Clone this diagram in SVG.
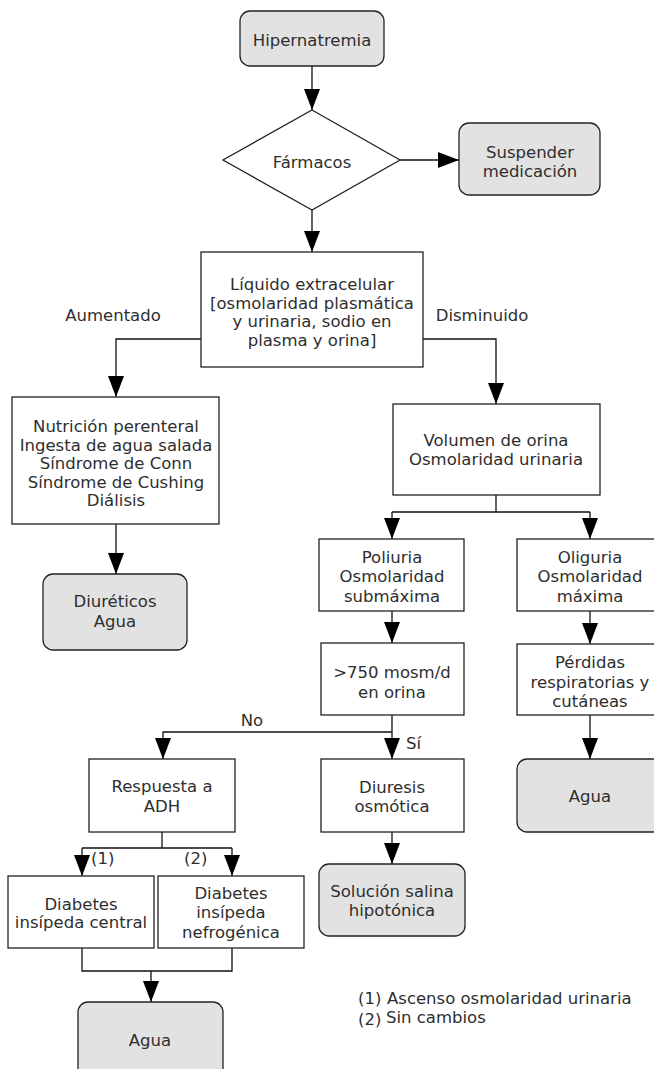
<svg xmlns="http://www.w3.org/2000/svg" width="654" height="1069" viewBox="0 0 654 1069">
  <style>
    text { font-family: "DejaVu Sans", Verdana, sans-serif; font-size: 16.5px; fill: #2e2e2e; text-anchor: middle; }
    .lbl { text-anchor: start; }
    .box { fill: #ffffff; stroke: #222; stroke-width: 1.3; }
    .term { fill: #e2e2e2; stroke: #222; stroke-width: 1.3; }
    .wire { fill: none; stroke: #111; stroke-width: 1.3; }
  </style>
  <defs>
    <marker id="arrow" viewBox="0 0 21 16" refX="21" refY="8" markerWidth="21" markerHeight="16" markerUnits="userSpaceOnUse" orient="auto">
      <path d="M0,0 L21,8 L0,16 z" fill="#000"/>
    </marker>
  </defs>
  <rect width="654" height="1069" fill="#ffffff"/>

  <!-- connectors -->
  <g id="connectors">
    <path class="wire" d="M312,66 V110" marker-end="url(#arrow)"/>
    <path class="wire" d="M400,160 H459" marker-end="url(#arrow)"/>
    <path class="wire" d="M312,210 V252" marker-end="url(#arrow)"/>
    <path class="wire" d="M201,339 H116 V397" marker-end="url(#arrow)"/>
    <path class="wire" d="M423,339 H496 V404" marker-end="url(#arrow)"/>
    <path class="wire" d="M116,524 V574" marker-end="url(#arrow)"/>
    <path class="wire" d="M496,495 V512"/>
    <path class="wire" d="M392,512 H590"/>
    <path class="wire" d="M392,512 V539" marker-end="url(#arrow)"/>
    <path class="wire" d="M590,512 V539" marker-end="url(#arrow)"/>
    <path class="wire" d="M392,611 V643" marker-end="url(#arrow)"/>
    <path class="wire" d="M590,611 V644" marker-end="url(#arrow)"/>
    <path class="wire" d="M392,715 V759" marker-end="url(#arrow)"/>
    <path class="wire" d="M392,732 H163 V759" marker-end="url(#arrow)"/>
    <path class="wire" d="M590,715 V759" marker-end="url(#arrow)"/>
    <path class="wire" d="M392,832 V864" marker-end="url(#arrow)"/>
    <path class="wire" d="M162,832 V848"/>
    <path class="wire" d="M82,848 H232"/>
    <path class="wire" d="M82,848 V876" marker-end="url(#arrow)"/>
    <path class="wire" d="M232,848 V876" marker-end="url(#arrow)"/>
    <path class="wire" d="M82,948 V971 H232 V948"/>
    <path class="wire" d="M151,971 V1002" marker-end="url(#arrow)"/>
    <!-- branch labels -->
    <text x="113" y="321">Aumentado</text>
    <text x="482" y="321">Disminuido</text>
    <text x="252" y="726">No</text>
    <text class="lbl" x="406" y="749">Sí</text>
    <text class="lbl" x="91" y="864">(1)</text>
    <text class="lbl" x="184" y="864">(2)</text>
  </g>

  <g id="hipernatremia">
    <rect class="term" x="240" y="11" width="144" height="55" rx="10"/>
    <text x="312" y="46">Hipernatremia</text>
  </g>

  <g id="farmacos">
    <polygon class="box" points="312,110 400,160 312,210 223,160"/>
    <text x="312" y="168">Fármacos</text>
  </g>

  <g id="suspender">
    <rect class="term" x="459" y="123" width="141" height="72" rx="10"/>
    <text x="530" y="158">Suspender</text>
    <text x="530" y="177">medicación</text>
  </g>

  <g id="liquido">
    <rect class="box" x="201" y="252" width="222" height="115"/>
    <text x="312" y="290">Líquido extracelular</text>
    <text x="312" y="309">[osmolaridad plasmática</text>
    <text x="312" y="327">y urinaria, sodio en</text>
    <text x="312" y="346">plasma y orina]</text>
  </g>

  <g id="causas-aumentado">
    <rect class="box" x="12" y="397" width="207" height="127"/>
    <text x="116" y="432">Nutrición perenteral</text>
    <text x="116" y="451">Ingesta de agua salada</text>
    <text x="116" y="469">Síndrome de Conn</text>
    <text x="116" y="488">Síndrome de Cushing</text>
    <text x="116" y="506">Diálisis</text>
  </g>

  <g id="diureticos">
    <rect class="term" x="43" y="574" width="144" height="76" rx="10"/>
    <text x="115" y="607">Diuréticos</text>
    <text x="115" y="627">Agua</text>
  </g>

  <g id="volumen">
    <rect class="box" x="393" y="404" width="207" height="91"/>
    <text x="496" y="446">Volumen de orina</text>
    <text x="496" y="465">Osmolaridad urinaria</text>
  </g>

  <g id="poliuria">
    <rect class="box" x="319" y="539" width="145" height="72"/>
    <text x="392" y="563">Poliuria</text>
    <text x="392" y="582">Osmolaridad</text>
    <text x="392" y="602">submáxima</text>
  </g>

  <g id="oliguria">
    <rect class="box" x="517" y="539" width="146" height="72"/>
    <text x="590" y="563">Oliguria</text>
    <text x="590" y="582">Osmolaridad</text>
    <text x="590" y="602">máxima</text>
  </g>

  <g id="mosm">
    <rect class="box" x="321" y="643" width="143" height="72"/>
    <text x="392" y="678">&gt;750 mosm/d</text>
    <text x="392" y="698">en orina</text>
  </g>

  <g id="perdidas">
    <rect class="box" x="517" y="644" width="146" height="71"/>
    <text x="590" y="668">Pérdidas</text>
    <text x="590" y="688">respiratorias y</text>
    <text x="590" y="707">cutáneas</text>
  </g>

  <g id="respuesta-adh">
    <rect class="box" x="89" y="759" width="146" height="73"/>
    <text x="162" y="792">Respuesta a</text>
    <text x="162" y="812">ADH</text>
  </g>

  <g id="diuresis">
    <rect class="box" x="321" y="759" width="143" height="73"/>
    <text x="392" y="793">Diuresis</text>
    <text x="392" y="812">osmótica</text>
  </g>

  <g id="agua-perdidas">
    <rect class="term" x="517" y="759" width="146" height="73" rx="10"/>
    <text x="590" y="802">Agua</text>
  </g>

  <g id="solucion">
    <rect class="term" x="319" y="864" width="146" height="72" rx="10"/>
    <text x="392" y="897">Solución salina</text>
    <text x="392" y="916">hipotónica</text>
  </g>

  <g id="di-central">
    <rect class="box" x="8" y="876" width="146" height="72"/>
    <text x="81" y="910">Diabetes</text>
    <text x="81" y="928">insípeda central</text>
  </g>

  <g id="di-nefrogenica">
    <rect class="box" x="158" y="876" width="146" height="72"/>
    <text x="231" y="899">Diabetes</text>
    <text x="231" y="918">insípeda</text>
    <text x="231" y="938">nefrogénica</text>
  </g>

  <g id="agua-diabetes">
    <rect class="term" x="78" y="1002" width="145" height="76" rx="10"/>
    <text x="150" y="1046">Agua</text>
  </g>

  <g id="leyenda">
    <text class="lbl" x="358" y="1004">(1)</text>
    <text class="lbl" x="387" y="1004">Ascenso osmolaridad urinaria</text>
    <text class="lbl" x="358" y="1025">(2)</text>
    <text class="lbl" x="386" y="1023">Sin cambios</text>
  </g>
</svg>
